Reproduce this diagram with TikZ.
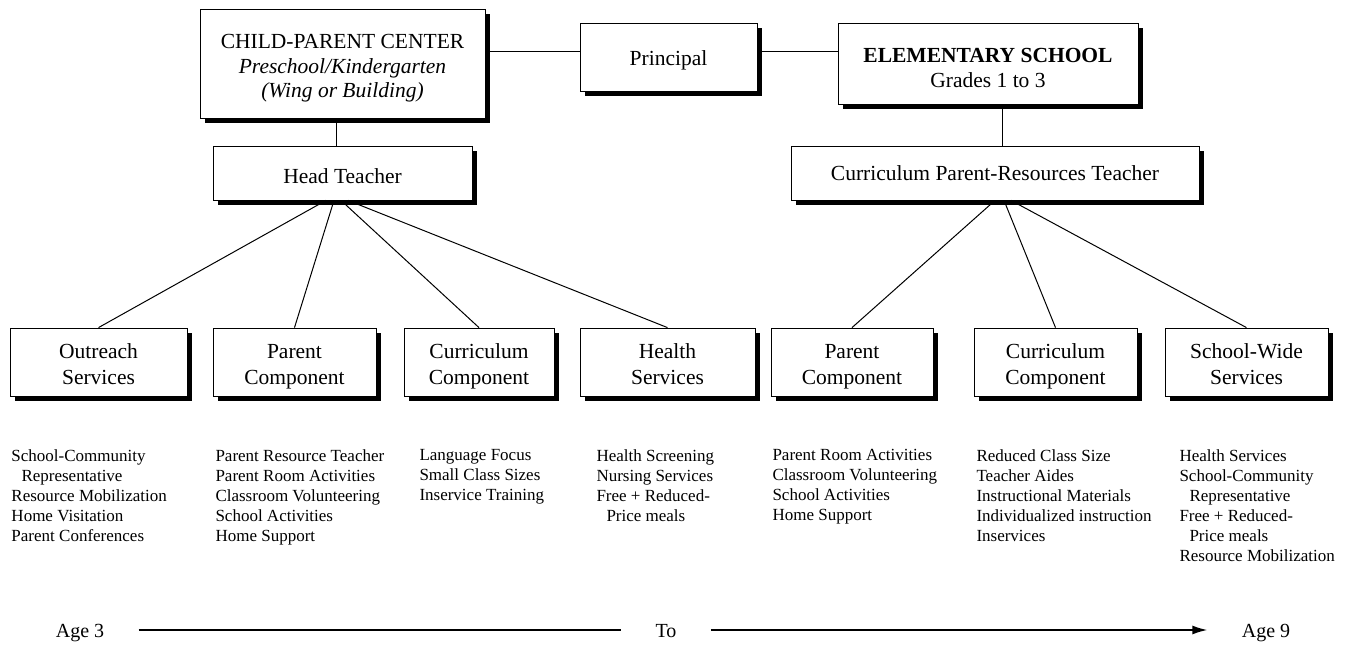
\documentclass[tikz,border=0pt]{standalone}
\usepackage{fontspec}
\setmainfont{Liberation Serif}
\usetikzlibrary{shadows,arrows.meta}
\newcommand{\dropto}[1]{\rule{0pt}{#1pt}}% taller first line pushes text down
\newcommand{\deepline}{\rule[-5pt]{0pt}{5pt}}% same depth for every last line

\begin{document}
\begin{tikzpicture}[
            x = 1pt, y = -1pt, % one unit per pixel, y going down
            > = {Latex[length=15pt,width=9pt]}, % arrow head style
            box/.style = {shape=rectangle, draw=black, fill=white, line width=0.8pt,
                          drop shadow={shadow xshift=5pt, shadow yshift=-5pt, fill=black, opacity=1},
                          inner sep=0pt, align=center, font=\fontsize{21.5}{25}\selectfont},
            unit/.style = {box, minimum height=68, font=\fontsize{21.5}{26.5}\selectfont},
            items/.style = {anchor=north west, inner sep=0pt, align=left,
                            font=\fontsize{17}{20}\selectfont},
            age/.style = {inner xsep=34pt, font=\fontsize{20}{24}\selectfont},
            line width=1pt % line style
        ]
\useasboundingbox (0,0) rectangle (1353,646);

% top row
\node[box, minimum width=285, minimum height=109, font=\fontsize{21.5}{24.4}\selectfont] (CPC) at (342.5,63.5) {\dropto{24}CHILD-PARENT CENTER\\ \textit{Preschool/Kindergarten}\\ \textit{(Wing or Building)}};
\node[box, minimum width=177, minimum height=68] (P) at (668.5,57) {\dropto{21}Principal};
\node[box, minimum width=300, minimum height=81] (ES) at (988,63.5) {\dropto{24}\textbf{ELEMENTARY SCHOOL}\\ Grades 1 to 3};
\node[box, minimum width=259, minimum height=54] (HT) at (342.5,173) {\dropto{22}Head Teacher};
\node[box, minimum width=408, minimum height=54] (CPRT) at (995,173) {\dropto{16}Curriculum Parent-Resources Teacher};

% components
\node[unit, minimum width=177] (OS) at (98.5,362) {\dropto{24}Outreach\\ Services\deepline};
\node[unit, minimum width=163] (PC) at (294.5,362) {\dropto{24}Parent\\ Component\deepline};
\node[unit, minimum width=150] (CC) at (479,362) {\dropto{24}Curriculum\\ Component\deepline};
\node[unit, minimum width=175] (HS) at (667.5,362) {\dropto{24}Health\\ Services\deepline};
\node[unit, minimum width=162] (PC2) at (852,362) {\dropto{24}Parent\\ Component\deepline};
\node[unit, minimum width=163] (CC2) at (1055.5,362) {\dropto{24}Curriculum\\ Component\deepline};
\node[unit, minimum width=163] (SW) at (1246.5,362) {\dropto{24}School-Wide\\ Services\deepline};

% lists
\node[items] (OSl) at (11,449) {School-Community\\ \hspace*{10pt}Representative\\ Resource Mobilization\\ Home Visitation\\ Parent Conferences};
\node[items] (PCl) at (215,449) {Parent Resource Teacher\\ Parent Room Activities\\ Classroom Volunteering\\ School Activities\\ Home Support};
\node[items] (CCl) at (419,449) {Language Focus\\ Small Class Sizes\\ Inservice Training};
\node[items] (HSl) at (596,449) {Health Screening\\ Nursing Services\\ Free + Reduced-\\ \hspace*{10pt}Price meals};
\node[items] (PC2l) at (772,449) {Parent Room Activities\\ Classroom Volunteering\\ School Activities\\ Home Support};
\node[items] (CC2l) at (976,449) {Reduced Class Size\\ Teacher Aides\\ Instructional Materials\\ Individualized instruction\\ Inservices};
\node[items] (SWl) at (1179,449) {Health Services\\ School-Community\\ \hspace*{10pt}Representative\\ Free + Reduced-\\ \hspace*{10pt}Price meals\\ Resource Mobilization};

% age line
\node[age] (A3) at (80,630) {\dropto{19}Age 3\deepline};
\node[age] (TO) at (666,630) {\dropto{19}To\deepline};
\node[age] (A9) at (1266,630) {\dropto{19}Age 9\deepline};

 \path [-] (CPC.east |- 0,51) edge (P.west |- 0,51);
 \path [-] (P.east |- 0,51) edge (ES.west |- 0,51);
 \path [-] (CPC.south -| 336,0) edge (HT.north -| 336,0);
 \path [-] (ES.south -| 1002,0) edge (CPRT.north -| 1002,0);
  \path [-] (HT.south -| 326,0) edge (OS.north);
  \path [-] (HT.south -| 334,0) edge (PC.north);
  \path [-] (HT.south -| 341,0) edge (CC.north);
  \path [-] (HT.south -| 348,0) edge (HS.north);
   \path [-] (CPRT.south -| 995,0) edge (PC2.north);
   \path [-] (CPRT.south -| 1004,0) edge (CC2.north);
   \path [-] (CPRT.south -| 1011,0) edge (SW.north);
    \path [-, line width=1.6pt] (A3) edge (TO);
    \path [->, line width=1.6pt] (TO) edge (A9);
\end{tikzpicture}
\end{document}
